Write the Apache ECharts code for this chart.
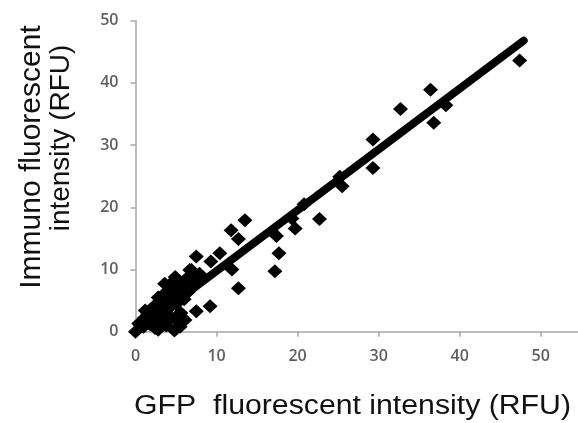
<!DOCTYPE html>
<html>
<head>
<meta charset="utf-8">
<script src="https://cdn.jsdelivr.net/npm/echarts@6/dist/echarts.min.js"></script>
<style>
html,body{margin:0;padding:0;background:#fff;}
#chart{width:578px;height:423px;}
</style>
</head>
<body>
<div id="chart"></div>
<script>
// GFP fluorescent intensity (x) vs Immuno fluorescent intensity (y), RFU
const gfpX = [
  47.4, 36.4, 38.3, 36.8, 32.7, 29.3, 29.3, 25.2, 25.5, 22.7, 20.8, 19.7, 19.3, 17.4, 17.7, 17.2,
  13.5, 11.8, 12.7, 12.7, 11.9, 10.4, 9.3, 9.2, 7.5, 7.5, 6.7,
  0.0, 0.4, 0.8, 1.0, 1.2, 1.4, 1.6, 1.8, 2.0, 2.2, 2.4, 2.6, 2.8, 2.8, 3.0, 3.2, 3.4, 3.6, 3.6,
  3.8, 4.0, 4.2, 4.4, 4.6, 4.8, 4.9, 5.0, 5.2, 5.4, 5.5, 5.6, 5.8, 6.0, 6.1, 6.3, 6.5, 6.9, 7.0,
  7.6, 8.2, 4.4, 5.9, 6.6, 7.2,
  0.6, 1.1, 1.5, 1.9, 2.3, 2.7, 3.1, 3.5, 3.9, 4.3, 4.7, 5.1, 5.3, 5.7, 6.2, 6.8, 7.3, 7.9,
  2.1, 3.3, 4.1, 4.5, 5.0, 3.7
];
const immunoY = [
  43.6, 38.9, 36.4, 33.6, 35.8, 30.9, 26.3, 24.9, 23.4, 18.1, 20.5, 16.6, 18.2, 15.4, 12.6, 9.7,
  17.9, 16.3, 14.9, 7.0, 10.0, 12.6, 11.3, 4.1, 12.1, 3.3, 9.9,
  0.0, 1.3, -0.2, 0.8, 3.4, 2.0, -0.4, 1.2, 2.6, 4.0, 0.6, 3.2, 5.5, 0.3, 1.8, 4.5, 2.6, 7.7, 6.2,
  1.0, 3.6, 5.2, 2.2, 7.0, 0.2, 8.8, 4.4, 6.2, 1.4, 0.8, 3.0, 7.6, 5.2, 1.9, 8.4, 6.4, 9.9, 7.4,
  8.2, 8.6, 7.8, 7.0, 8.9, 8.0,
  1.0, 2.2, 2.8, 3.1, 3.0, 4.2, 3.8, 5.0, 4.8, 6.0, 5.9, 6.8, 7.4, 6.6, 8.0, 7.9, 8.8, 9.3,
  1.6, 3.4, 2.0, 4.3, 2.4, 2.9
];
// linear trend line endpoints
const trendX = [0.0, 47.9];
const trendY = [0.0, 46.8];

const xTicks = { min: 0, max: 54.6, interval: 10 };
const yTicks = { min: 0, max: 50, interval: 10 };

const xTitle = 'GFP  fluorescent intensity (RFU)';
const yTitle1 = 'Immuno fluorescent';
const yTitle2 = 'intensity (RFU)';

const scatterData = gfpX.map((x, i) => [x, immunoY[i]]);
const trendData = trendX.map((x, i) => [x, trendY[i]]);

const chart = echarts.init(document.getElementById('chart'), null, { renderer: 'canvas' });
const axisColor = '#a6a6a6';
const labelStyle = { color: '#5f5f5f', fontSize: 16, fontWeight: 600, fontFamily: 'Open Sans' };

chart.setOption({
  animation: false,
  backgroundColor: '#ffffff',
  grid: { left: 135.5, right: 0, top: 20.7, bottom: 91.3, containLabel: false, outerBoundsMode: 'none' },
  xAxis: {
    type: 'value', min: xTicks.min, max: xTicks.max, interval: xTicks.interval,
    axisLine: { show: true, onZero: false, lineStyle: { color: axisColor, width: 1.5 } },
    axisTick: { show: true, inside: false, length: 5, lineStyle: { color: axisColor, width: 1.5 } },
    axisLabel: Object.assign({ margin: 17, showMaxLabel: false }, labelStyle),
    splitLine: { show: false }
  },
  yAxis: {
    type: 'value', min: yTicks.min, max: yTicks.max, interval: yTicks.interval,
    axisLine: { show: true, onZero: false, lineStyle: { color: axisColor, width: 1.5 } },
    axisTick: { show: true, inside: false, length: 5, lineStyle: { color: axisColor, width: 1.5 } },
    axisLabel: Object.assign({ margin: 17 }, labelStyle),
    splitLine: { show: false }
  },
  series: [
    {
      type: 'scatter',
      data: scatterData,
      symbol: 'diamond',
      symbolSize: [15, 14],
      itemStyle: { color: '#000000', opacity: 1 },
      z: 2
    },
    {
      type: 'line',
      data: trendData,
      showSymbol: false,
      symbol: 'none',
      lineStyle: { color: '#000000', width: 8, cap: 'round' },
      z: 3
    }
  ],
  graphic: [
    {
      type: 'text', x: 352.5, y: 407,
      style: { text: xTitle, font: '27px "Liberation Sans", Arial, sans-serif', fill: '#111111',
               textAlign: 'center', textVerticalAlign: 'middle', align: 'center', verticalAlign: 'middle' },
      scaleX: 1.12
    },
    {
      type: 'text', x: 32, y: 157, rotation: Math.PI / 2,
      style: { text: yTitle1, font: '30px "Liberation Sans", Arial, sans-serif', fill: '#111111',
               textAlign: 'center', textVerticalAlign: 'middle', align: 'center', verticalAlign: 'middle' }
    },
    {
      type: 'text', x: 61, y: 138, rotation: Math.PI / 2,
      style: { text: yTitle2, font: '28px "Liberation Sans", Arial, sans-serif', fill: '#111111',
               textAlign: 'center', textVerticalAlign: 'middle', align: 'center', verticalAlign: 'middle' }
    }
  ]
});
</script>
</body>
</html>
